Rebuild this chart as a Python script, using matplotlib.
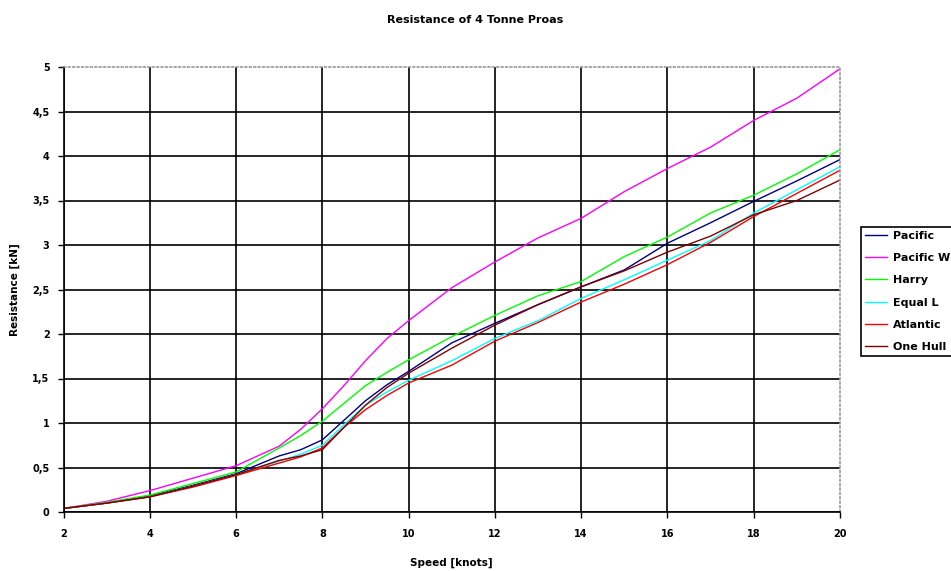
import matplotlib.pyplot as plt
from matplotlib.ticker import FuncFormatter

# Vitesse (noeuds) et résistance (kN)
speed = [2, 3, 4, 5, 6, 7, 7.5, 8, 8.5, 9, 9.5, 10,
         11, 12, 13, 14, 15, 16, 17, 18, 19, 20]

pacific = [0.04, 0.10, 0.18, 0.30, 0.43, 0.63, 0.70, 0.81, 1.03, 1.25, 1.43,
           1.58, 1.90, 2.12, 2.33, 2.53, 2.72, 3.02, 3.25, 3.49, 3.72, 3.96]
pacific_w = [0.04, 0.12, 0.24, 0.38, 0.52, 0.74, 0.93, 1.16, 1.42, 1.70,
             1.95, 2.15, 2.52, 2.81, 3.08, 3.30, 3.60, 3.86, 4.10, 4.40,
             4.65, 4.98]
harry = [0.04, 0.11, 0.19, 0.32, 0.45, 0.72, 0.86, 1.02, 1.22, 1.42, 1.57,
         1.71, 1.97, 2.21, 2.43, 2.59, 2.87, 3.09, 3.36, 3.56, 3.80, 4.07]
equal_l = [0.04, 0.10, 0.17, 0.29, 0.42, 0.57, 0.65, 0.75, 0.98, 1.20, 1.35,
           1.48, 1.70, 1.95, 2.15, 2.40, 2.61, 2.83, 3.05, 3.36, 3.62, 3.88]
atlantic = [0.04, 0.10, 0.17, 0.28, 0.41, 0.55, 0.62, 0.72, 0.95, 1.15,
            1.31, 1.45, 1.65, 1.92, 2.13, 2.36, 2.56, 2.78, 3.03, 3.32,
            3.58, 3.84]
one_hull = [0.04, 0.10, 0.17, 0.29, 0.42, 0.58, 0.63, 0.70, 0.95, 1.20,
            1.40, 1.56, 1.84, 2.10, 2.33, 2.53, 2.71, 2.92, 3.10, 3.34,
            3.50, 3.73]

series = [
    ("Pacific", pacific, "#000080"),
    ("Pacific W", pacific_w, "#FF00FF"),
    ("Harry", harry, "#00FF00"),
    ("Equal L", equal_l, "#00FFFF"),
    ("Atlantic", atlantic, "#FF0000"),
    ("One Hull", one_hull, "#800000"),
]

x_ticks = [2, 4, 6, 8, 10, 12, 14, 16, 18, 20]
y_ticks = [0, 0.5, 1, 1.5, 2, 2.5, 3, 3.5, 4, 4.5, 5]

plt.rcParams["font.family"] = "DejaVu Sans"
plt.rcParams["font.weight"] = "bold"

fig = plt.figure(figsize=(9.51, 5.71), dpi=100)
ax = fig.add_axes([63.5 / 951, 1 - 512 / 571,
                   (840 - 63.5) / 951, (512 - 67) / 571])

for nom, valeurs, couleur in series:
    ax.plot(speed, valeurs, color=couleur, lw=1.0, label=nom)

ax.set_xlim(2, 20)
ax.set_ylim(0, 5)
ax.set_xticks(x_ticks)
ax.set_yticks(y_ticks)
ax.yaxis.set_major_formatter(
    FuncFormatter(lambda v, p: ("%g" % v).replace(".", ","))
)
ax.tick_params(direction="out", length=4, width=1, labelsize=7,
               colors="black", pad=6)
ax.tick_params(axis="x", pad=8)
ax.grid(True, color="black", lw=1.2)
ax.set_axisbelow(True)
# pas de grille sur le bord haut / droit
ax.yaxis.get_gridlines()[-1].set_visible(False)
ax.xaxis.get_gridlines()[-1].set_visible(False)

for cote in ["left", "bottom"]:
    ax.spines[cote].set_color("black")
    ax.spines[cote].set_linewidth(1.2)
for cote in ["top", "right"]:
    ax.spines[cote].set_color("#9a9a9a")
    ax.spines[cote].set_linestyle(":")
    ax.spines[cote].set_linewidth(1.2)

ax.set_xlabel("Speed [knots]", fontsize=7.5, fontweight="bold", labelpad=14)
ax.set_ylabel("Resistance [kN]", fontsize=7.5, fontweight="bold",
              labelpad=9)
fig.text(475 / 951, 1 - 20 / 571, "Resistance of 4 Tonne Proas",
         ha="center", va="center", fontsize=8, fontweight="bold")

leg = fig.legend(loc="upper left", bbox_to_anchor=(861 / 951, 1 - 227 / 571),
                 fontsize=8, frameon=True, fancybox=False, framealpha=1,
                 edgecolor="black", handlelength=2.0, handletextpad=0.5,
                 labelspacing=1.1, borderpad=0.35, borderaxespad=0)
leg.get_frame().set_linewidth(1.2)

plt.savefig("out.png", dpi=100)
